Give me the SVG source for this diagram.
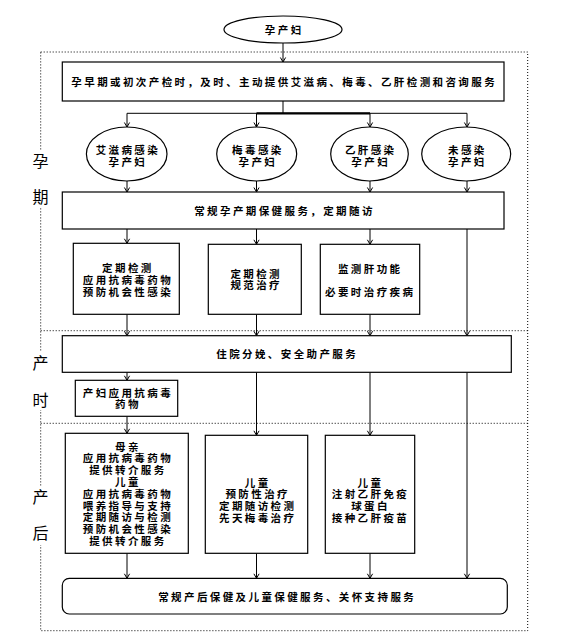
<svg xmlns="http://www.w3.org/2000/svg" width="573" height="637" viewBox="0 0 573 637">
<style>
.bg{fill:#fff}
.box{fill:#fff;stroke:#000;stroke-width:1.2}
.ln{fill:none;stroke:#000;stroke-width:1}
.dot{fill:none;stroke:#000;stroke-width:1;stroke-dasharray:1 2}
.t{font-family:"Liberation Sans","Noto Sans CJK SC",sans-serif;font-size:10.5px;font-weight:700;letter-spacing:2.4px;text-anchor:middle;fill:#000}
.side{font-family:"Liberation Sans","Noto Sans CJK SC",sans-serif;font-size:16px;text-anchor:middle;fill:#000}
</style>
<defs>
<marker id="ah" markerUnits="userSpaceOnUse" markerWidth="8" markerHeight="8" refX="0" refY="0" viewBox="-5 -4 6 8" orient="auto" overflow="visible">
<path d="M-4.5,-2.6 L0,0 L-4.5,2.6" fill="none" stroke="#000" stroke-width="1"/>
</marker>
</defs>
<rect class="bg" x="0" y="0" width="573" height="637"/>

<g id="frame">
<rect class="dot" x="40.7" y="52" width="487" height="578.7"/>
<line class="dot" x1="40.7" y1="330.7" x2="527.7" y2="330.7"/>
<line class="dot" x1="40.7" y1="423.3" x2="527.7" y2="423.3"/>
</g>

<g id="phase-labels">
<rect class="bg" x="31" y="150" width="19" height="58"/>
<rect class="bg" x="31" y="352" width="19" height="58"/>
<rect class="bg" x="31" y="487" width="19" height="58"/>
<text class="side" x="40.5" y="167">孕</text>
<text class="side" x="40.5" y="203">期</text>
<text class="side" x="40.5" y="369">产</text>
<text class="side" x="40.5" y="406">时</text>
<text class="side" x="40.5" y="503">产</text>
<text class="side" x="40.5" y="539">后</text>
</g>

<g id="connectors">
<line class="ln" x1="283" y1="43" x2="283" y2="62" marker-end="url(#ah)"/>
<line class="ln" x1="283" y1="101" x2="283" y2="113.3"/>
<line class="ln" x1="127" y1="113.3" x2="467" y2="113.3"/>
<line x1="256.5" y1="113.3" x2="370" y2="113.3" stroke="#000" stroke-width="2.2"/>
<line class="ln" x1="127" y1="113.3" x2="127" y2="127" marker-end="url(#ah)"/>
<line class="ln" x1="256.5" y1="113.3" x2="256.5" y2="127" marker-end="url(#ah)"/>
<line class="ln" x1="370" y1="113.3" x2="370" y2="127" marker-end="url(#ah)"/>
<line class="ln" x1="467" y1="113.3" x2="467" y2="127" marker-end="url(#ah)"/>
<line class="ln" x1="127" y1="181" x2="127" y2="192" marker-end="url(#ah)"/>
<line class="ln" x1="256.5" y1="181" x2="256.5" y2="192" marker-end="url(#ah)"/>
<line class="ln" x1="370" y1="181" x2="370" y2="192" marker-end="url(#ah)"/>
<line class="ln" x1="467" y1="181" x2="467" y2="192" marker-end="url(#ah)"/>
<line class="ln" x1="127" y1="229" x2="127" y2="243.3" marker-end="url(#ah)"/>
<line class="ln" x1="256.5" y1="229" x2="256.5" y2="244.3" marker-end="url(#ah)"/>
<line class="ln" x1="370" y1="229" x2="370" y2="244.3" marker-end="url(#ah)"/>
<line class="ln" x1="467" y1="229" x2="467" y2="335.7" marker-end="url(#ah)"/>
<line class="ln" x1="127" y1="314.3" x2="127" y2="335.7" marker-end="url(#ah)"/>
<line class="ln" x1="256.5" y1="314.3" x2="256.5" y2="335.7" marker-end="url(#ah)"/>
<line class="ln" x1="370" y1="314.3" x2="370" y2="335.7" marker-end="url(#ah)"/>
<line class="ln" x1="127" y1="372.3" x2="127" y2="380.3" marker-end="url(#ah)"/>
<line class="ln" x1="256.5" y1="372.3" x2="256.5" y2="435.3" marker-end="url(#ah)"/>
<line class="ln" x1="370" y1="372.3" x2="370" y2="435.3" marker-end="url(#ah)"/>
<line class="ln" x1="467" y1="372.3" x2="467" y2="578.3" marker-end="url(#ah)"/>
<line class="ln" x1="127" y1="416.3" x2="127" y2="433.3" marker-end="url(#ah)"/>
<line class="ln" x1="127" y1="553.3" x2="127" y2="578.3" marker-end="url(#ah)"/>
<line class="ln" x1="256.5" y1="553.3" x2="256.5" y2="578.3" marker-end="url(#ah)"/>
<line class="ln" x1="370" y1="553.3" x2="370" y2="578.3" marker-end="url(#ah)"/>
</g>

<g id="start">
<ellipse class="box" cx="283" cy="29.5" rx="59" ry="13.5"/>
<text class="t" x="284.2" y="33.7">孕产妇</text>
</g>

<g id="screening">
<rect class="box" x="62.3" y="62" width="441.7" height="39"/>
<text class="t" x="284.2" y="85.7">孕早期或初次产检时，及时、主动提供艾滋病、梅毒、乙肝检测和咨询服务</text>
</g>

<g id="hiv">
<ellipse class="box" cx="126.7" cy="154" rx="40.3" ry="27"/>
<text class="t" y="154.3"><tspan x="127.9">艾滋病感染</tspan><tspan x="127.9" dy="11.8">孕产妇</tspan></text>
</g>
<g id="syphilis">
<ellipse class="box" cx="256.7" cy="154" rx="40" ry="27"/>
<text class="t" y="154.3"><tspan x="257.9">梅毒感染</tspan><tspan x="257.9" dy="11.8">孕产妇</tspan></text>
</g>
<g id="hbv">
<ellipse class="box" cx="369.5" cy="154" rx="38.8" ry="27"/>
<text class="t" y="154.3"><tspan x="370.7">乙肝感染</tspan><tspan x="370.7" dy="11.8">孕产妇</tspan></text>
</g>
<g id="uninfected">
<ellipse class="box" cx="466.2" cy="154" rx="44.5" ry="27"/>
<text class="t" y="154.3"><tspan x="467.4">未感染</tspan><tspan x="467.4" dy="11.8">孕产妇</tspan></text>
</g>

<g id="routine-prenatal">
<rect class="box" x="62.3" y="192" width="441.7" height="37"/>
<text class="t" x="284.5" y="214.7">常规孕产期保健服务，定期随访</text>
</g>

<g id="hiv-prenatal">
<rect class="box" x="73.3" y="243.3" width="106" height="71"/>
<text class="t" y="272"><tspan x="127.9">定期检测</tspan><tspan x="127.9" dy="11.8">应用抗病毒药物</tspan><tspan x="127.9" dy="11.8">预防机会性感染</tspan></text>
</g>
<g id="syphilis-prenatal">
<rect class="box" x="208.3" y="244.3" width="93" height="70"/>
<text class="t" y="277.5"><tspan x="256.2">定期检测</tspan><tspan x="256.2" dy="11.8">规范治疗</tspan></text>
</g>
<g id="hbv-prenatal">
<rect class="box" x="320.3" y="244.3" width="99.4" height="70"/>
<text class="t" y="272.5"><tspan x="370.2">监测肝功能</tspan><tspan x="370.2" dy="23.3">必要时治疗疾病</tspan></text>
</g>

<g id="delivery">
<rect class="box" x="62.3" y="335.7" width="449" height="36.6"/>
<text class="t" x="287.2" y="357.5">住院分娩、安全助产服务</text>
</g>

<g id="intrapartum-arv">
<rect class="box" x="75.3" y="380.3" width="102.4" height="36"/>
<text class="t" y="396.5"><tspan x="127.9">产妇应用抗病毒</tspan><tspan x="127.9" dy="11.8">药物</tspan></text>
</g>

<g id="hiv-postpartum">
<rect class="box" x="65.3" y="433.3" width="123" height="120"/>
<text class="t" y="450.6"><tspan x="127.9">母亲</tspan><tspan x="127.9" dy="11.8">应用抗病毒药物</tspan><tspan x="127.9" dy="11.8">提供转介服务</tspan><tspan x="127.9" dy="11.8">儿童</tspan><tspan x="127.9" dy="11.8">应用抗病毒药物</tspan><tspan x="127.9" dy="11.8">喂养指导与支持</tspan><tspan x="127.9" dy="11.8">定期随访与检测</tspan><tspan x="127.9" dy="11.8">预防机会性感染</tspan><tspan x="127.9" dy="11.8">提供转介服务</tspan></text>
</g>
<g id="syphilis-postpartum">
<rect class="box" x="205.3" y="435.3" width="102.4" height="118"/>
<text class="t" y="486.6"><tspan x="257.7">儿童</tspan><tspan x="257.7" dy="11.8">预防性治疗</tspan><tspan x="257.7" dy="11.8">定期随访检测</tspan><tspan x="257.7" dy="11.8">先天梅毒治疗</tspan></text>
</g>
<g id="hbv-postpartum">
<rect class="box" x="325.3" y="435.3" width="89.4" height="118"/>
<text class="t" y="486.6"><tspan x="370.5">儿童</tspan><tspan x="370.5" dy="11.8">注射乙肝免疫</tspan><tspan x="370.5" dy="11.8">球蛋白</tspan><tspan x="370.5" dy="11.8">接种乙肝疫苗</tspan></text>
</g>

<g id="routine-postnatal">
<rect class="box" x="62.3" y="578.3" width="445" height="35.7" rx="7" ry="7"/>
<text class="t" x="287.2" y="600.9">常规产后保健及儿童保健服务、关怀支持服务</text>
</g>
</svg>
